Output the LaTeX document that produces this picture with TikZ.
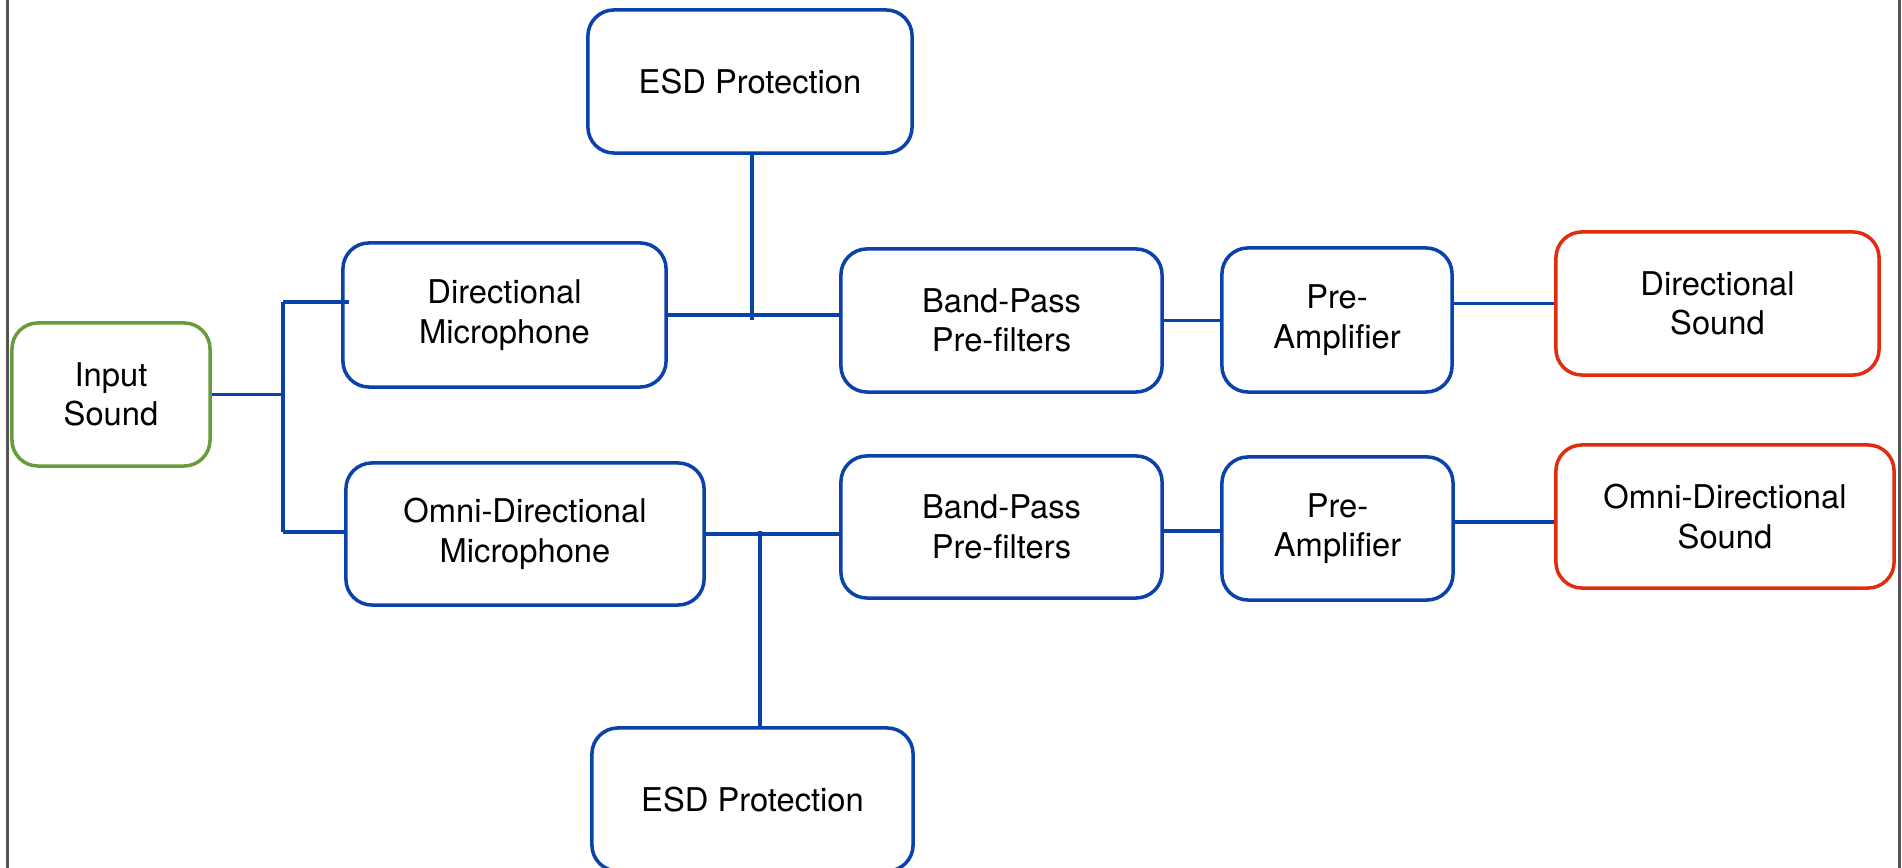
\documentclass[tikz,border=0pt]{standalone}
\usepackage{fontspec}
\setmainfont{TeX Gyre Heros}
\usepackage{tikz}

\definecolor{lineblue}{RGB}{10,65,170}
\definecolor{ingreen}{RGB}{105,155,60}
\definecolor{outred}{RGB}{225,45,15}
\definecolor{framegray}{RGB}{85,85,85}

\tikzset{
  block/.style={draw=lineblue, line width=1pt, rounded corners=0.26cm,
    align=center, inner sep=0pt, font=\fontsize{9.3}{11.2}\selectfont},
  wire/.style={lineblue, line width=1.05pt},
}

\begin{document}
\begin{tikzpicture}[x=0.01cm, y=-0.01cm]

    % Page area and the two side rules
    \useasboundingbox (0,0) rectangle (1902,868);
    \clip (0,0) rectangle (1902,868);
    \draw[framegray, line width=0.6pt] (7.5,0) -- (7.5,868);
    \draw[framegray, line width=0.6pt] (1899.5,0) -- (1899.5,868);

    % Source
    \node[block, draw=ingreen, minimum width=1.98cm, minimum height=1.43cm] (insound) at (111,394.5) {Input\\Sound};

    % Microphones
    \node[block, minimum width=3.23cm, minimum height=1.44cm] (dmic) at (504.5,315) {Directional\\Microphone};
    \node[block, minimum width=3.58cm, minimum height=1.42cm] (omic) at (525,534) {Omni-Directional\\Microphone};

    % ESD protection above and below
    \node[block, minimum width=3.24cm, minimum height=1.43cm] (esdtop) at (750,81.5) {ESD Protection};
    \node[block, minimum width=3.21cm, minimum height=1.43cm] (esdbot) at (752.5,799.5) {ESD Protection};

    % Filters and pre-amplifiers
    \node[block, minimum width=3.21cm, minimum height=1.43cm] (bpdir) at (1001.5,320.5) {Band-Pass\\Pre-filters};
    \node[block, minimum width=3.21cm, minimum height=1.42cm] (bpomni) at (1001.5,527) {Band-Pass\\Pre-filters};
    \node[block, minimum width=2.30cm, minimum height=1.44cm] (padir) at (1337,320) {Pre-\\Amplifier};
    \node[block, minimum width=2.31cm, minimum height=1.43cm] (paomni) at (1337.5,528.5) {Pre-\\Amplifier};

    % Outputs
    \node[block, draw=outred, minimum width=3.23cm, minimum height=1.43cm] (dsound) at (1717.5,303.5) {Directional\\Sound};
    \node[block, draw=outred, minimum width=3.38cm, minimum height=1.43cm] (osound) at (1725,516.5) {Omni-Directional\\Sound};

    % Splitter bus after the input
    \coordinate (bustop) at (283,302);
    \coordinate (busbot) at (283,532);
    \draw[wire] (insound.east) -- (insound.east -| bustop);
    \draw[wire] (bustop) -- (busbot);
    \draw[wire] (bustop) -- ([xshift=0.08cm]bustop -| dmic.west);
    \draw[wire] (busbot) -- (busbot -| omic.west);

    % Directional chain
    \coordinate (tapdir) at (752,320);
    \draw[wire] (dmic.east) -- (dmic.east -| bpdir.west);
    \draw[wire] (tapdir |- esdtop.south) -- (tapdir);
    \draw[wire] (bpdir.east) -- (bpdir.east -| padir.west);
    \draw[wire] (dsound.west -| padir.east) -- (dsound.west);

    % Omni-directional chain
    \coordinate (tapomni) at (760,531);
    \coordinate (ampout) at (1453,522);
    \draw[wire] (omic.east) -- (omic.east -| bpomni.west);
    \draw[wire] (tapomni) -- (tapomni |- esdbot.north);
    \draw[wire] (bpomni.east |- tapomni) -- (paomni.west |- tapomni);
    \draw[wire] (ampout) -- (ampout -| osound.west);

\end{tikzpicture}
\end{document}
